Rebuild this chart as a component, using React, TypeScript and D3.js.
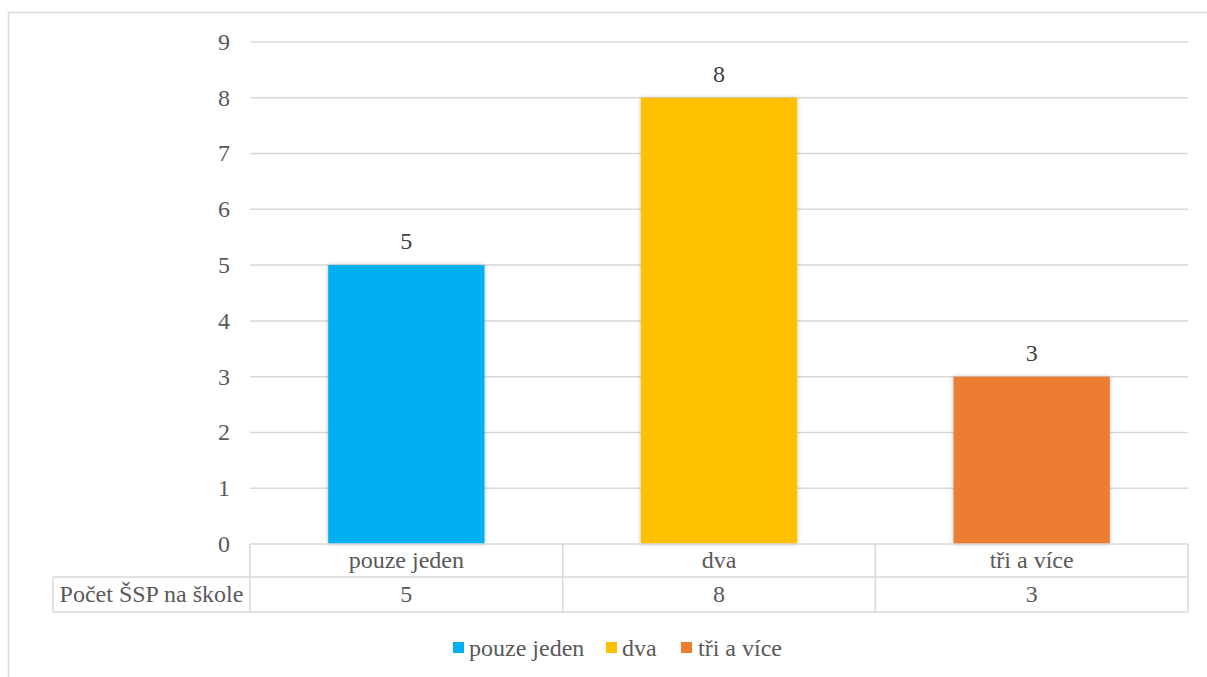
import React from "react";
import * as d3 from "d3";

const categories = ["pouze jeden", "dva", "tři a více"];
const values = [5, 8, 3];
const colors = ["#00B0F0", "#FFC000", "#ED7D31"];
const yTicks = [0, 1, 2, 3, 4, 5, 6, 7, 8, 9];
const tableRowLabel = "Počet ŠSP na škole";

const W = 1207;
const H = 677;
const plotLeft = 250;
const plotRight = 1188;
const plotTop = 42;
const plotBottom = 544;
const row1Bottom = 577;
const row2Bottom = 612;
const tableLeft = 53;
const font = "Liberation Serif, Times New Roman, serif";
const textColor = "#595959";
const lineColor = "#D9D9D9";
const fs = 24;

export default function App() {
  const y = d3.scaleLinear().domain([0, 9]).range([plotBottom, plotTop]);
  const x = d3.scaleBand().domain(categories).range([plotLeft, plotRight]).paddingInner(0).paddingOuter(0);
  const bw = x.bandwidth();
  const barW = bw * 0.5;

  const legendItems = [
    { label: categories[0], sx: 453, tx: 469 },
    { label: categories[1], sx: 606, tx: 622 },
    { label: categories[2], sx: 681, tx: 698 },
  ];

  return (
    <svg width={W} height={H} style={{ position: "absolute", left: 0, top: 0, fontFamily: font }}>
      <defs>
        <filter id="sh" x="-10%" y="-10%" width="120%" height="120%">
          <feDropShadow dx="0" dy="0" stdDeviation="2" floodColor="#000" floodOpacity="0.25" />
        </filter>
      </defs>
      <rect x={0} y={0} width={W} height={H} fill="#fff" />
      <rect x={8.5} y={12.5} width={W + 10} height={H + 10} fill="none" stroke={lineColor} strokeWidth={1.5} />

      {yTicks.map((t) => (
        <g key={t}>
          {t > 0 && (
            <line x1={plotLeft} x2={plotRight} y1={y(t)} y2={y(t)} stroke={lineColor} strokeWidth={1.5} />
          )}
          <text x={230} y={y(t)} dy="0.33em" textAnchor="end" fontSize={fs} fill={textColor}>
            {t}
          </text>
        </g>
      ))}

      {categories.map((c, i) => {
        const cx = (x(c) as number) + bw / 2;
        return (
          <g key={c}>
            <rect
              x={cx - barW / 2}
              y={y(values[i])}
              width={barW}
              height={plotBottom - y(values[i])}
              fill={colors[i]}
              filter="url(#sh)"
            />
            <text x={cx} y={y(values[i]) - 24} dy="0.33em" textAnchor="middle" fontSize={fs} fill="#404040">
              {values[i]}
            </text>
          </g>
        );
      })}

      {/* data table */}
      <g stroke={lineColor} strokeWidth={1.5} fill="none">
        <line x1={plotLeft} x2={plotRight} y1={plotBottom} y2={plotBottom} />
        <line x1={tableLeft} x2={plotRight} y1={row1Bottom} y2={row1Bottom} />
        <line x1={tableLeft} x2={plotRight} y1={row2Bottom} y2={row2Bottom} />
        <line x1={tableLeft} x2={tableLeft} y1={row1Bottom} y2={row2Bottom} />
        {[plotLeft, ...categories.map((c) => (x(c) as number) + bw)].map((vx, i) => (
          <line key={i} x1={vx} x2={vx} y1={plotBottom} y2={row2Bottom} />
        ))}
      </g>
      {categories.map((c, i) => {
        const cx = (x(c) as number) + bw / 2;
        return (
          <g key={c} fontSize={fs} fill={textColor} textAnchor="middle">
            <text x={cx} y={(plotBottom + row1Bottom) / 2} dy="0.33em">{c}</text>
            <text x={cx} y={(row1Bottom + row2Bottom) / 2} dy="0.33em">{values[i]}</text>
          </g>
        );
      })}
      <text x={(tableLeft + plotLeft) / 2} y={(row1Bottom + row2Bottom) / 2} dy="0.33em" textAnchor="middle" fontSize={fs} fill={textColor}>
        {tableRowLabel}
      </text>

      {/* legend */}
      {legendItems.map((l, i) => (
        <g key={l.label}>
          <rect x={l.sx} y={642} width={11} height={11} fill={colors[i]} />
          <text x={l.tx} y={648} dy="0.33em" fontSize={fs} fill={textColor}>
            {l.label}
          </text>
        </g>
      ))}
    </svg>
  );
}
